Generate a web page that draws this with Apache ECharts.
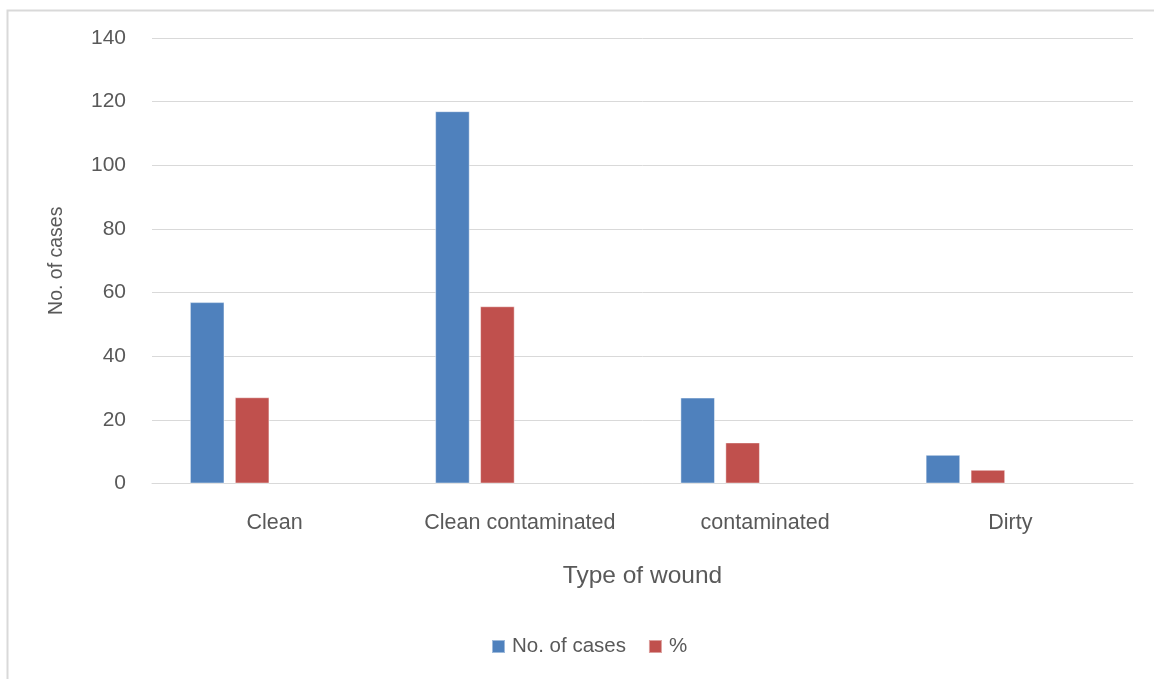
<!DOCTYPE html>
<html>
<head>
<meta charset="utf-8">
<script src="https://cdn.jsdelivr.net/npm/echarts@6/dist/echarts.min.js"></script>
<style>
  html, body { margin: 0; padding: 0; background: #ffffff; }
  #chart { width: 1154px; height: 679px; }
</style>
</head>
<body>
<div id="chart"></div>
<script>
// Wound classification: case counts and share of total
const categories = ['Clean', 'Clean contaminated', 'contaminated', 'Dirty'];
const casesValues = [57, 117, 27, 9];
const percentValues = [27.1, 55.7, 12.9, 4.3];
const seriesNames = ['No. of cases', '%'];
const yTicks = [0, 20, 40, 60, 80, 100, 120, 140];

const textColor = '#595959';
const fontFamily = '"Liberation Sans", Arial, sans-serif';

const chart = echarts.init(document.getElementById('chart'), null, { renderer: 'canvas' });

const barBorder = { borderColor: 'rgba(255,255,255,0.45)', borderWidth: 1 };

chart.setOption({
  animation: false,
  backgroundColor: '#ffffff',
  graphic: [{
    type: 'rect',
    left: 5, top: 8,
    shape: { width: 1170, height: 700 },
    style: { fill: 'none', stroke: '#d9d9d9', lineWidth: 2 },
    silent: true, z: -1
  }],
  grid: { left: 152, right: 21, top: 38, bottom: 195.5, containLabel: false },
  legend: {
    data: seriesNames,
    top: 631,
    left: 486,
    itemWidth: 13, itemHeight: 13,
    itemGap: 22,
    icon: 'rect',
    textStyle: { color: textColor, fontSize: 20.5, fontFamily: fontFamily, padding: [0, 0, 0, 2] }
  },
  xAxis: {
    type: 'category',
    data: categories,
    name: 'Type of wound',
    nameLocation: 'middle',
    nameGap: 80,
    nameTextStyle: { color: textColor, fontSize: 24.5, fontFamily: fontFamily },
    axisLine: { show: true, lineStyle: { color: '#d9d9d9', width: 1 } },
    axisTick: { show: false },
    axisLabel: { interval: 0, color: textColor, fontSize: 21.5, fontFamily: fontFamily, margin: 29 },
    splitLine: { show: false }
  },
  yAxis: {
    type: 'value',
    min: 0, max: yTicks[yTicks.length - 1], interval: yTicks[1] - yTicks[0],
    name: 'No. of cases',
    nameLocation: 'middle',
    nameGap: 85,
    nameRotate: 90,
    nameTextStyle: { color: textColor, fontSize: 19.5, fontFamily: fontFamily },
    axisLine: { show: false },
    axisTick: { show: false },
    axisLabel: { color: textColor, fontSize: 21, fontFamily: fontFamily, margin: 26 },
    splitLine: { lineStyle: { color: '#d9d9d9', width: 1 } }
  },
  series: [
    {
      name: seriesNames[0], type: 'bar', data: casesValues,
      barGap: '30%', barCategoryGap: '30.9%',
      itemStyle: Object.assign({ color: '#4F81BD' }, barBorder)
    },
    {
      name: seriesNames[1], type: 'bar', data: percentValues,
      itemStyle: Object.assign({ color: '#C0504D' }, barBorder)
    },
    // two empty series keep the cluster slots of the original workbook layout
    { name: 'blank1', type: 'bar', data: [], itemStyle: { color: 'transparent' } },
    { name: 'blank2', type: 'bar', data: [], itemStyle: { color: 'transparent' } }
  ]
});
</script>
</body>
</html>
